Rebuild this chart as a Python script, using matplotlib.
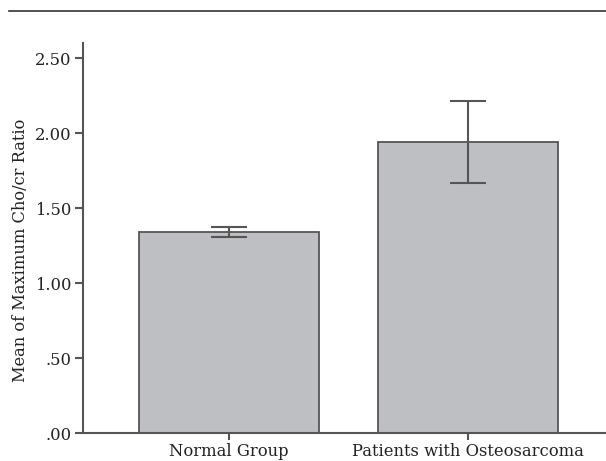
import matplotlib
matplotlib.use("Agg")
import matplotlib.pyplot as plt
from matplotlib.lines import Line2D

categories = ["Normal Group", "Patients with Osteosarcoma"]
means = [1.342, 1.942]
err_low = [1.305, 1.669]
err_high = [1.371, 2.215]
yticks = [0.0, 0.5, 1.0, 1.5, 2.0, 2.5]
ytick_labels = [".00", ".50", "1.00", "1.50", "2.00", "2.50"]
ylabel = "Mean of Maximum Cho/cr Ratio"

plt.rcParams["font.family"] = ["DejaVu Serif"]

W, H = 606, 461
fig = plt.figure(figsize=(W / 100, H / 100), dpi=100)
ax_l, ax_b, ax_t = 83, 433.3, 43.3
ax = fig.add_axes([ax_l / W, 1 - ax_b / H, 1 - ax_l / W, (ax_b - ax_t) / H])

x = list(range(len(categories)))
yerr = [[m - l for m, l in zip(means, err_low)], [h - m for m, h in zip(means, err_high)]]
ax.bar(x, means, width=0.753, color="#bebfc2", edgecolor="#555555", linewidth=1.3, zorder=2)
ax.errorbar(x, means, yerr=yerr, fmt="none", ecolor="#555555", elinewidth=1.5,
            capsize=13, capthick=1.5, zorder=3)

ax.set_xlim(-0.611, 1.577)
ax.set_ylim(0, 2.598)
ax.set_xticks(x)
ax.set_xticklabels(categories, fontsize=11.8)
ax.set_yticks(yticks)
ax.set_yticklabels(ytick_labels, fontsize=11.8)
ax.set_ylabel(ylabel, fontsize=11.7, color="#222222")
ax.yaxis.set_label_coords(-0.104, 0.47)

for s in ["top", "right"]:
    ax.spines[s].set_visible(False)
for s in ["left", "bottom"]:
    ax.spines[s].set_color("#555555")
    ax.spines[s].set_linewidth(1.5)
ax.tick_params(axis="y", length=5.5, width=1.5, color="#555555", pad=3, labelcolor="#222222")
ax.tick_params(axis="x", length=5, width=1.5, color="#555555", pad=2, labelcolor="#222222")

fig.add_artist(Line2D([9 / W, 1.0], [1 - 11.5 / H, 1 - 11.5 / H], color="#333333",
                      linewidth=1.2, transform=fig.transFigure))

fig.savefig("out.png", dpi=100)
